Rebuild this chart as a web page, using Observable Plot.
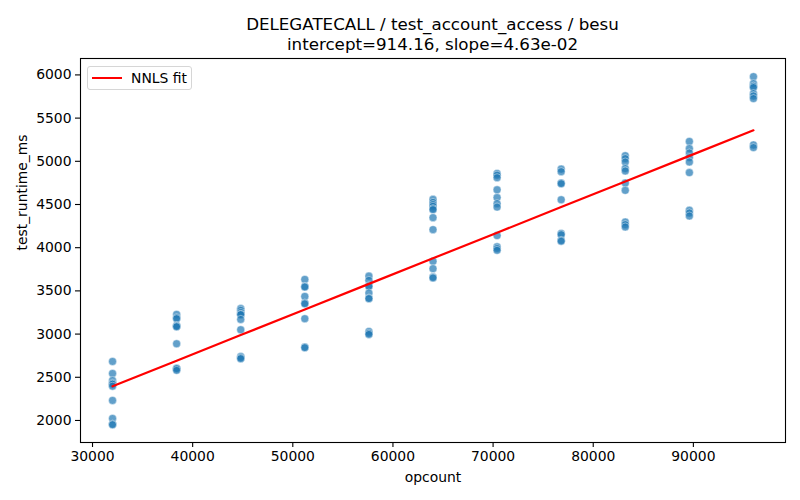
<!DOCTYPE html>
<html>
<head>
<meta charset="utf-8">
<script src="https://cdn.jsdelivr.net/npm/d3@7"></script>
<script src="https://cdn.jsdelivr.net/npm/@observablehq/plot@0.6"></script>
<style>
  body { margin: 0; background: #fff; font-family: "DejaVu Sans", sans-serif; }
  #wrap { position: relative; width: 800px; height: 500px; }
  #title { box-sizing: border-box; height: 50px; padding: 14px 15px 0 80px; text-align: center;
           font-size: 16.7px; line-height: 20px; color: #000; }
  #legend { position: absolute; left: 87px; top: 66px; width: 105px; height: 24px; box-sizing: border-box;
            border: 1px solid #d6d6d6; border-radius: 3px; background: rgba(255,255,255,0.8); }
  #legend .swatch { position: absolute; left: 4px; top: 10px; width: 30px; height: 2.2px; background: #ff0000; }
  #legend .lab { position: absolute; left: 43px; top: 2px; font-size: 13.9px; line-height: 18px; color: #000; }
  svg { display: block; }
</style>
</head>
<body>
<div id="wrap">
  <div id="title">DELEGATECALL / test_account_access / besu<br>intercept=914.16, slope=4.63e-02</div>
  <div id="chart"></div>
  <div id="legend"><div class="swatch"></div><div class="lab">NNLS fit</div></div>
</div>
<script>
const opcounts = [32000, 38400, 44800, 51200, 57600, 64000, 70400, 76800, 83200, 89600, 96000];
const runtimes32000 = [2683, 2544, 2463, 2430, 2420, 2397, 2232, 2023, 1958, 1950];
const runtimes38400 = [3228, 3190, 3178, 3100, 3092, 3085, 2888, 2605, 2599, 2580];
const runtimes44800 = [3295, 3275, 3250, 3230, 3225, 3170, 3050, 2740, 2725, 2715];
const runtimes51200 = [3633, 3552, 3545, 3436, 3359, 3350, 3178, 2850, 2842];
const runtimes57600 = [3671, 3622, 3560, 3552, 3475, 3417, 3410, 3031, 3010, 2996];
const runtimes64000 = [4560, 4525, 4500, 4480, 4452, 4440, 4348, 4209, 3842, 3757, 3660, 3650];
const runtimes70400 = [4860, 4840, 4810, 4670, 4580, 4510, 4470, 4140, 4010, 3990, 3970];
const runtimes76800 = [4910, 4880, 4750, 4740, 4555, 4165, 4150, 4085, 4075];
const runtimes83200 = [5065, 5031, 4992, 4916, 4888, 4749, 4664, 4297, 4267, 4240];
const runtimes89600 = [5230, 5147, 5096, 5043, 4992, 4869, 4433, 4402, 4367];
const runtimes96000 = [5980, 5900, 5869, 5854, 5784, 5757, 5726, 5190, 5159];
const runtimeGroups = [runtimes32000, runtimes38400, runtimes44800, runtimes51200, runtimes57600,
  runtimes64000, runtimes70400, runtimes76800, runtimes83200, runtimes89600, runtimes96000];
const intercept = 914.16;
const slope = 4.63e-2;
const xTicks = [30000, 40000, 50000, 60000, 70000, 80000, 90000];
const yTicks = [2000, 2500, 3000, 3500, 4000, 4500, 5000, 5500, 6000];

const points = opcounts.flatMap((x, i) => runtimeGroups[i].map(y => ({x, y})));
const fit = opcounts.map(x => ({x, y: intercept + slope * x}));

const fs = 13.9;
const chart = Plot.plot({
  width: 800,
  height: 450,
  marginLeft: 80,
  marginRight: 15,
  marginTop: 8,
  marginBottom: 58,
  style: {fontFamily: "DejaVu Sans, sans-serif", fontSize: fs + "px", color: "#000", background: "#fff"},
  x: {domain: [28800, 99200]},
  y: {domain: [1745, 6190]},
  marks: [
    Plot.dot(points, {x: "x", y: "y", r: 4, fill: "#1f77b4", fillOpacity: 0.7,
      stroke: "white", strokeWidth: 0.6, strokeOpacity: 0.7}),
    Plot.line(fit, {x: "x", y: "y", stroke: "#ff0000", strokeWidth: 2.2}),
    Plot.frame({stroke: "#000", strokeWidth: 1.1}),
    Plot.axisX({ticks: xTicks, tickFormat: d3.format("d"), tickSize: 5, tickPadding: 4,
      fontSize: fs, label: null, stroke: "#000", strokeWidth: 1.1}),
    Plot.axisY({ticks: yTicks, tickFormat: d3.format("d"), tickSize: 5, tickPadding: 4,
      fontSize: fs, label: null, stroke: "#000", strokeWidth: 1.1}),
    Plot.text(["opcount"], {text: d => d, frameAnchor: "bottom", dy: 39, fontSize: fs, fill: "#000"}),
    Plot.text(["test_runtime_ms"], {text: d => d, frameAnchor: "left", dx: -58, rotate: -90,
      fontSize: fs, fill: "#000"})
  ]
});
document.getElementById("chart").appendChild(chart);
</script>
</body>
</html>
